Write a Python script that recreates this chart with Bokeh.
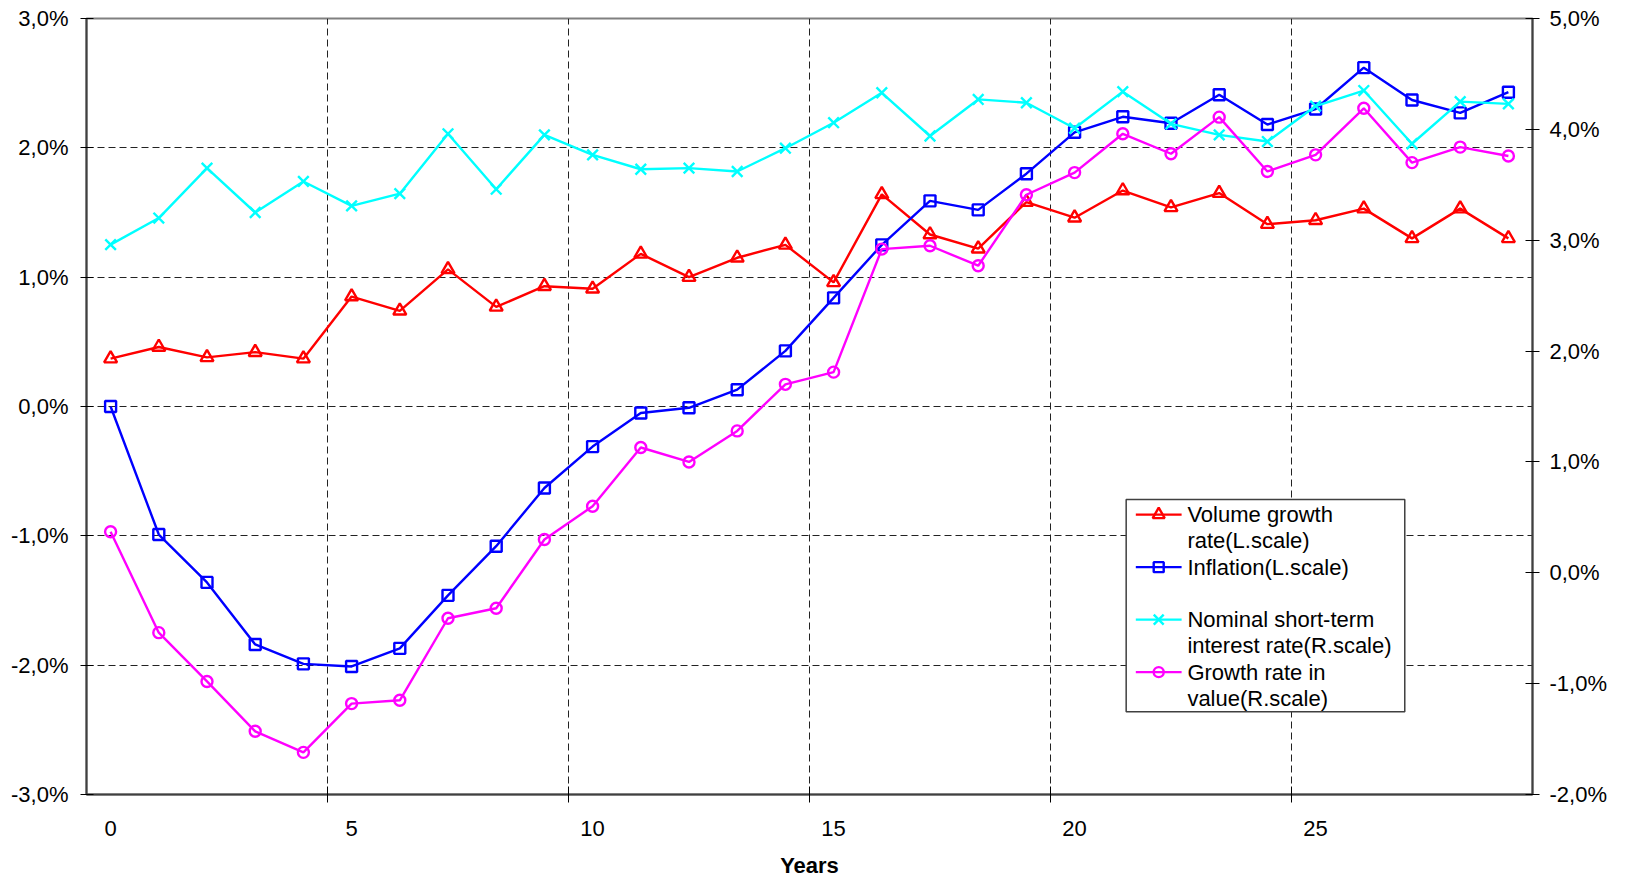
from bokeh.plotting import figure
from bokeh.models import Range1d, LinearAxis, FixedTicker, CustomJSTickFormatter, ColumnDataSource
from bokeh.core.properties import value
from bokeh.embed import file_html
from bokeh.resources import INLINE

# ---- data (percent) ----
years = list(range(30))

volume_growth = [0.37, 0.46, 0.38, 0.42, 0.37, 0.85, 0.74, 1.06, 0.77, 0.93,
                 0.91, 1.18, 1.00, 1.15, 1.25, 0.96, 1.64, 1.33, 1.22, 1.58,
                 1.46, 1.67, 1.54, 1.65, 1.41, 1.44, 1.53, 1.30, 1.53, 1.30]

inflation = [0.00, -0.99, -1.36, -1.84, -1.99, -2.01, -1.87, -1.46, -1.08, -0.63,
             -0.31, -0.05, -0.01, 0.13, 0.43, 0.84, 1.25, 1.59, 1.52, 1.80,
             2.12, 2.24, 2.19, 2.41, 2.18, 2.30, 2.62, 2.37, 2.27, 2.43]

short_rate = [2.96, 3.20, 3.65, 3.25, 3.53, 3.31, 3.42, 3.96, 3.46, 3.95,
              3.77, 3.64, 3.65, 3.62, 3.83, 4.06, 4.33, 3.94, 4.27, 4.24,
              4.01, 4.34, 4.05, 3.95, 3.89, 4.21, 4.35, 3.87, 4.25, 4.23]

value_growth = [0.37, -0.54, -0.98, -1.43, -1.62, -1.18, -1.15, -0.41, -0.32, 0.30,
                0.60, 1.13, 1.00, 1.28, 1.70, 1.81, 2.92, 2.95, 2.77, 3.41,
                3.61, 3.96, 3.78, 4.11, 3.62, 3.77, 4.19, 3.70, 3.84, 3.76]

year_labels = [0, 5, 10, 15, 20, 25]
year_separators = [4.5, 9.5, 14.5, 19.5, 24.5]
left_ticks = [-3, -2, -1, 0, 1, 2, 3]
left_grid = [-2, -1, 0, 1, 2]
right_ticks = [-2, -1, 0, 1, 2, 3, 4, 5]

legend_lines = [
    ["Volume growth", "rate(L.scale)"],
    ["Inflation(L.scale)"],
    ["Nominal short-term", "interest rate(R.scale)"],
    ["Growth rate in", "value(R.scale)"],
]

# ---- styling ----
FONT = "Liberation Sans"
FONT_SIZE = "22px"
AXIS_GREY = "#404040"
GRID_DASH = "7 4"
LINE_W = 2.4

series = [
    (volume_growth, "#FF0000", "triangle", 13, "default"),
    (inflation, "#0000FF", "square", 11, "default"),
    (short_rate, "#00FFFF", "x", 15, "right"),
    (value_growth, "#FF00FF", "circle", 11, "right"),
]

p = figure(width=1625, height=880,
           x_range=Range1d(-0.5, 29.5), y_range=Range1d(-3, 3),
           output_backend="svg", toolbar_location=None,
           min_border_left=86, min_border_right=93,
           min_border_top=18, min_border_bottom=85,
           background_fill_color="white", border_fill_color="white")
p.extra_y_ranges = {"right": Range1d(-2, 5)}

p.outline_line_color = "#808080"
p.outline_line_width = 2

pct_code = "return tick.toFixed(1).replace('.', ',') + '%';"

# bottom axis: labels on years, ticks between year groups
xa = p.xaxis[0]
xa.ticker = FixedTicker(ticks=year_labels, minor_ticks=year_separators)
xa.major_tick_line_color = None
xa.minor_tick_line_color = "#000000"
xa.minor_tick_line_width = 1
xa.minor_tick_in = 8
xa.minor_tick_out = 8
xa.axis_line_color = AXIS_GREY
xa.axis_line_width = 2
xa.major_label_text_font = FONT
xa.major_label_text_font_size = FONT_SIZE
xa.major_label_text_color = "black"
xa.major_label_standoff = 18
xa.axis_label = "Years"
xa.axis_label_text_font = FONT
xa.axis_label_text_font_size = FONT_SIZE
xa.axis_label_text_font_style = "bold"
xa.axis_label_text_color = "black"
xa.axis_label_standoff = 14

# left axis
ya = p.yaxis[0]
ya.ticker = FixedTicker(ticks=left_ticks)
ya.formatter = CustomJSTickFormatter(code=pct_code)
ya.axis_line_color = AXIS_GREY
ya.axis_line_width = 2
ya.major_tick_line_color = "#000000"
ya.major_tick_in = 7
ya.major_tick_out = 6
ya.minor_tick_line_color = None
ya.major_label_text_font = FONT
ya.major_label_text_font_size = FONT_SIZE
ya.major_label_text_color = "black"
ya.major_label_standoff = 12

# right axis
ra = LinearAxis(y_range_name="right", ticker=FixedTicker(ticks=right_ticks),
                formatter=CustomJSTickFormatter(code=pct_code))
ra.axis_line_color = AXIS_GREY
ra.axis_line_width = 2
ra.major_tick_line_color = "#000000"
ra.major_tick_in = 7
ra.major_tick_out = 7
ra.minor_tick_line_color = None
ra.major_label_text_font = FONT
ra.major_label_text_font_size = FONT_SIZE
ra.major_label_text_color = "black"
ra.major_label_standoff = 10
p.add_layout(ra, "right")

# dashed grid
p.xgrid.ticker = FixedTicker(ticks=year_separators)
p.ygrid.ticker = FixedTicker(ticks=left_grid)
for g in (p.xgrid, p.ygrid):
    g.grid_line_color = "#222222"
    g.grid_line_width = 1
    g.grid_line_dash = GRID_DASH

# series
for vals, color, marker, msize, rng in series:
    src = ColumnDataSource(dict(x=years, y=vals))
    p.line("x", "y", source=src, line_color=color, line_width=LINE_W, y_range_name=rng)
    p.scatter("x", "y", source=src, marker=marker, size=msize,
              line_color=color, fill_color=None, line_width=LINE_W, y_range_name=rng)

# legend box (left-scale data units)
leg_left, leg_right = 21.07, 26.85
leg_top, leg_bottom = -0.72, -2.36
first_row = -0.836
row_step = 0.203
sample_x0, sample_x1 = 21.27, 22.22
sample_mid = (sample_x0 + sample_x1) / 2
text_x = 22.34

p.quad(left=[leg_left], right=[leg_right], top=[leg_top], bottom=[leg_bottom],
       fill_color="white", line_color=AXIS_GREY, line_width=1.5)

for i, ((vals, color, marker, msize, rng), lines) in enumerate(zip(series, legend_lines)):
    y = first_row - 2 * i * row_step
    p.line([sample_x0, sample_x1], [y, y], line_color=color, line_width=LINE_W)
    p.scatter([sample_mid], [y], marker=marker, size=msize - 1,
              line_color=color, fill_color=None, line_width=LINE_W)
    p.text(x=[text_x] * len(lines), y=[y - k * row_step for k in range(len(lines))],
           text=lines, text_font=value(FONT), text_font_size=FONT_SIZE,
           text_baseline="middle", text_align="left", text_color="black")

open("out.html", "w").write(file_html(p, INLINE))
